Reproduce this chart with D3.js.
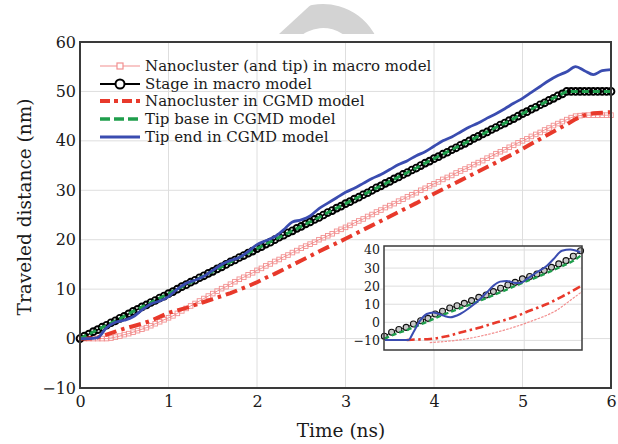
<!DOCTYPE html>
<html>
<head>
<meta charset="utf-8">
<script src="https://cdn.jsdelivr.net/npm/d3@7"></script>
<style>
  html, body { margin: 0; padding: 0; background: #fff; }
  svg { display: block; }
  text { font-family: "DejaVu Serif", "Liberation Serif", serif; fill: #1a1a1a; }
</style>
</head>
<body>
<svg id="chart" width="618" height="444"></svg>
<script>
// ---- Sample times (ns) ----
const t05 = [0,0.05,0.1,0.15,0.2,0.25,0.3,0.35,0.4,0.45,0.5,0.55,0.6,0.65,0.7,0.75,0.8,0.85,0.9,0.95,
  1,1.05,1.1,1.15,1.2,1.25,1.3,1.35,1.4,1.45,1.5,1.55,1.6,1.65,1.7,1.75,1.8,1.85,1.9,1.95,
  2,2.05,2.1,2.15,2.2,2.25,2.3,2.35,2.4,2.45,2.5,2.55,2.6,2.65,2.7,2.75,2.8,2.85,2.9,2.95,
  3,3.05,3.1,3.15,3.2,3.25,3.3,3.35,3.4,3.45,3.5,3.55,3.6,3.65,3.7,3.75,3.8,3.85,3.9,3.95,
  4,4.05,4.1,4.15,4.2,4.25,4.3,4.35,4.4,4.45,4.5,4.55,4.6,4.65,4.7,4.75,4.8,4.85,4.9,4.95,
  5,5.05,5.1,5.15,5.2,5.25,5.3,5.35,5.4,5.45,5.5,5.55,5.6,5.65,5.7,5.75,5.8,5.85,5.9,5.95,6];
const t10 = [0,0.1,0.2,0.3,0.4,0.5,0.6,0.7,0.8,0.9,1,1.1,1.2,1.3,1.4,1.5,1.6,1.7,1.8,1.9,
  2,2.1,2.2,2.3,2.4,2.5,2.6,2.7,2.8,2.9,3,3.1,3.2,3.3,3.4,3.5,3.6,3.7,3.8,3.9,
  4,4.1,4.2,4.3,4.4,4.5,4.6,4.7,4.8,4.9,5,5.1,5.2,5.3,5.4,5.5,5.6,5.7,5.8,5.9,6];

// ---- Traveled distance (nm) ----
// Nanocluster (and tip) in macro model, on t05
const macroCluster = [0,0,0,0,0,0,0,0.1,0.3,0.5,
  0.8,1.0,1.3,1.6,1.9,2.2,2.6,3.0,3.4,3.8,
  4.2,4.6,5.1,5.6,6.1,6.6,7.1,7.6,8.1,8.6,
  9.1,9.6,10.1,10.5,11.0,11.5,12.0,12.4,12.9,13.3,
  13.8,14.2,14.7,15.1,15.6,16.0,16.5,16.9,17.4,17.8,
  18.3,18.7,19.1,19.5,20.0,20.4,20.8,21.2,21.7,22.1,
  22.5,22.9,23.4,23.8,24.2,24.7,25.1,25.6,26.0,26.5,
  26.9,27.3,27.8,28.2,28.7,29.1,29.5,30.0,30.4,30.9,
  31.3,31.7,32.2,32.6,33.0,33.5,33.9,34.3,34.7,35.2,
  35.6,36.0,36.5,36.9,37.4,37.8,38.2,38.7,39.1,39.6,
  40.0,40.4,40.9,41.3,41.7,42.2,42.6,43.1,43.5,43.9,
  44.3,44.7,45.0,45.1,45.2,45.2,45.2,45.2,45.2,45.2,45.2];
// Stage in macro model, on t05
const macroStage = [0,0.5,0.9,1.4,1.8,2.3,2.7,3.2,3.6,4.1,
  4.5,5.0,5.5,5.9,6.4,6.8,7.3,7.7,8.2,8.6,
  9.1,9.5,10.0,10.5,10.9,11.4,11.8,12.3,12.7,13.2,
  13.6,14.1,14.5,15.0,15.5,15.9,16.4,16.8,17.3,17.7,
  18.2,18.6,19.1,19.5,20.0,20.5,20.9,21.4,21.8,22.3,
  22.7,23.2,23.6,24.1,24.5,25.0,25.5,25.9,26.4,26.8,
  27.3,27.7,28.2,28.6,29.1,29.5,30.0,30.5,30.9,31.4,
  31.8,32.3,32.7,33.2,33.6,34.1,34.5,35.0,35.5,35.9,
  36.4,36.8,37.3,37.7,38.2,38.6,39.1,39.5,40.0,40.5,
  40.9,41.4,41.8,42.3,42.7,43.2,43.6,44.1,44.5,45.0,
  45.5,45.9,46.4,46.8,47.3,47.7,48.2,48.6,49.1,49.5,
  50.0,50,50,50,50,50,50,50,50,50,50];
// Nanocluster in CGMD model, on t10
const cgmdCluster = [0,0,0.2,0.8,1.4,2.0,2.5,3.0,3.6,4.4,
  5.2,5.7,6.2,6.8,7.4,8.0,8.6,9.2,9.9,10.6,
  11.4,12.3,13.1,14.0,14.9,15.8,16.7,17.6,18.5,19.3,
  20.2,21.1,22.0,22.9,23.8,24.7,25.6,26.5,27.4,28.4,
  29.3,30.2,31.1,32.0,32.9,33.8,34.7,35.6,36.5,37.4,
  38.4,39.4,40.4,41.4,42.4,43.3,44.4,45.2,45.6,45.7,45.8];
// Tip base in CGMD model, on t10
const cgmdTipBase = [0,0.9,1.8,2.7,3.6,4.5,5.5,6.4,7.3,8.2,
  9.1,10.0,10.9,11.8,12.7,13.6,14.5,15.5,16.4,17.3,
  18.2,19.1,20.0,20.9,21.8,22.7,23.6,24.5,25.5,26.4,
  27.3,28.2,29.1,30.0,30.9,31.8,32.7,33.6,34.5,35.5,
  36.4,37.3,38.2,39.1,40.0,40.9,41.8,42.7,43.6,44.5,
  45.5,46.4,47.3,48.2,49.1,50.0,50,50,50,50,50];
// Tip end in CGMD model, on t10
const cgmdTipEnd = [0,0,0.2,2.2,3.3,3.7,4.4,5.8,7.0,7.6,
  8.5,10.0,11.2,11.8,12.6,13.8,15.0,15.8,16.4,17.6,
  19.0,19.8,20.6,22.0,23.6,24.0,24.8,26.3,27.4,28.5,
  29.6,30.4,31.4,32.4,33.2,34.2,35.2,36.0,37.0,37.8,
  38.9,40.0,40.8,41.8,42.8,43.6,44.6,45.5,46.5,47.6,
  48.6,49.8,51.0,52.2,53.2,54.0,55.0,54.2,53.4,54.2,54.4];

// ---- Inset curves ----
const insetT = [0.46,0.54,0.62,0.70,0.78,0.86,0.94,1.02,1.10,1.18,1.26,1.34,1.42,1.50,
  1.58,1.66,1.74,1.82,1.90,1.98,2.06,2.14,2.22,2.30,2.38,2.46,2.54,2.62];
const insetStage = [-7.7,-5.5,-4.0,-2.8,-0.9,0.9,2.2,4.6,6.1,7.9,9.2,10.5,12.0,13.8,
  15.1,17.0,18.8,20.6,22.1,24.0,25.3,26.7,28.6,30.4,32.3,34.1,36.5,39.6];
const insetTipBase = [-9.0,-7.3,-5.8,-4.4,-2.8,-1.1,0.5,2.3,4.0,5.6,7.1,8.6,10.1,11.7,
  13.3,15.0,16.7,18.4,20.1,21.8,23.4,25.0,26.7,28.4,30.2,32.0,34.0,36.8];
const insetEndT = [0.467,0.724,0.78,0.853,0.927,1.0,1.11,1.184,1.294,1.405,1.515,1.589,
  1.662,1.735,1.809,1.90,1.956,2.03,2.14,2.25,2.323,2.416,2.507,2.617];
const insetTipEnd = [-9.8,-9.8,-5.5,0.9,4.6,5.5,3.7,2.8,4.6,8.3,12.9,16.6,
  20.3,22.5,22.9,21.8,21.8,24.0,27.7,31.3,35.0,39.6,40.2,38.7];
const insetClT = [0.706,0.762,0.964,1.147,1.331,1.515,1.699,1.882,2.066,2.25,2.433,2.636];
const insetCluster = [-9.8,-9.6,-9.2,-7.7,-5.2,-2.8,0,2.8,6.5,10.1,14.7,20.3];
const insetMacroT = [0.96,1.33,1.70,2.07,2.36,2.52,2.636];
const insetMacro = [-11.2,-9.4,-5.4,0.5,6.8,12.6,17.0];

// ---- Axis ticks and labels ----
const xTicks = [0,1,2,3,4,5,6];
const yTicks = [-10,0,10,20,30,40,50,60];
const insetYTicks = [-10,0,10,20,30,40];
const insetXGrid = [1,2];
const legendLabels = [
  "Nanocluster (and tip) in macro model",
  "Stage in macro model",
  "Nanocluster in CGMD model",
  "Tip base in CGMD model",
  "Tip end in CGMD model"
];
const xTitle = "Time (ns)";
const yTitle = "Traveled distance (nm)";

// ---- Styles ----
const C = {
  macro: "#f29090",
  stage: "#000000",
  cluster: "#e8392b",
  base: "#1f9e4c",
  end: "#3a4cb0",
  grid: "#dedede",
  frame: "#3a3a3a"
};

const svg = d3.select("#chart");

// faint ring mark above the plot, cut by a slanted edge on its left
const arc = d3.arc().innerRadius(35).outerRadius(59).startAngle(-1.2).endAngle(1.75);
svg.append("clipPath").attr("id", "topclip")
  .append("polygon").attr("points", "279,34 316,0 618,0 618,34");
svg.append("g").attr("clip-path", "url(#topclip)")
  .append("path").attr("d", arc()).attr("transform", "translate(323,63)")
  .attr("fill", "#d3d3d3");

const x = d3.scaleLinear().domain([0, 6]).range([80, 611]);
const y = d3.scaleLinear().domain([-10, 60]).range([388, 42]);

// grid
const g = svg.append("g");
g.selectAll(".gx").data(xTicks).join("line")
  .attr("x1", d => x(d)).attr("x2", d => x(d)).attr("y1", y(-10)).attr("y2", y(60))
  .attr("stroke", C.grid).attr("stroke-width", 1);
g.selectAll(".gy").data(yTicks).join("line")
  .attr("y1", d => y(d)).attr("y2", d => y(d)).attr("x1", x(0)).attr("x2", x(6))
  .attr("stroke", C.grid).attr("stroke-width", 1);

// axes (labels only, frame drawn separately)
const xAxis = d3.axisBottom(x).tickValues(xTicks).tickSize(0).tickPadding(8).tickFormat(d3.format("d"));
const yAxis = d3.axisLeft(y).tickValues(yTicks).tickSize(0).tickPadding(4).tickFormat(d3.format("d"));
const gx = svg.append("g").attr("transform", `translate(0,${y(-10)})`).call(xAxis);
const gy = svg.append("g").attr("transform", `translate(${x(0)},0)`).call(yAxis);
[gx, gy].forEach(a => {
  a.select(".domain").remove();
  a.selectAll("text").style("font-family", '"DejaVu Serif", serif').style("font-size", "16px").attr("fill", "#1a1a1a");
});

// lines
const line = (xs, ys, sx, sy, curve) => d3.line()
  .x((d, i) => sx(xs[i])).y(d => sy(d)).curve(curve || d3.curveLinear)(ys);

const plot = svg.append("g");
// macro nanocluster: thin line with hollow squares
plot.append("path").attr("d", line(t05, macroCluster, x, y))
  .attr("fill", "none").attr("stroke", C.macro).attr("stroke-width", 1);
plot.selectAll(".sq").data(macroCluster).join("rect")
  .attr("x", (d, i) => x(t05[i]) - 2.3).attr("y", d => y(d) - 2.3)
  .attr("width", 4.6).attr("height", 4.6)
  .attr("fill", "none").attr("stroke", C.macro).attr("stroke-width", 0.9);

// stage: black line with hollow circles
plot.append("path").attr("d", line(t05, macroStage, x, y))
  .attr("fill", "none").attr("stroke", C.stage).attr("stroke-width", 1.6);
plot.selectAll(".ci").data(macroStage).join("circle")
  .attr("cx", (d, i) => x(t05[i])).attr("cy", d => y(d)).attr("r", 3.4)
  .attr("fill", "none").attr("stroke", C.stage).attr("stroke-width", 1.9);

// CGMD nanocluster: dash-dot
plot.append("path").attr("d", line(t10, cgmdCluster, x, y))
  .attr("fill", "none").attr("stroke", C.cluster).attr("stroke-width", 4)
  .attr("stroke-dasharray", "12,5,3.5,5");

// CGMD tip base: dashed
plot.append("path").attr("d", line(t10, cgmdTipBase, x, y))
  .attr("fill", "none").attr("stroke", C.base).attr("stroke-width", 3)
  .attr("stroke-dasharray", "7,4");

// CGMD tip end: solid
plot.append("path").attr("d", line(t10, cgmdTipEnd, x, y, d3.curveMonotoneX))
  .attr("fill", "none").attr("stroke", C.end).attr("stroke-width", 2.8)
  .attr("stroke-linejoin", "round");

// frame
svg.append("rect").attr("x", x(0)).attr("y", y(60))
  .attr("width", x(6) - x(0)).attr("height", y(-10) - y(60))
  .attr("fill", "none").attr("stroke", C.frame).attr("stroke-width", 2);

// axis titles
svg.append("text").attr("x", 341).attr("y", 437).attr("text-anchor", "middle")
  .style("font-size", "18.5px").text(xTitle);
svg.append("text").attr("transform", "translate(31,207) rotate(-90)")
  .attr("text-anchor", "middle").style("font-size", "18.5px").text(yTitle);

// legend
const legY = [66, 84, 101, 119, 137];
const leg = svg.append("g");
const lx0 = 100, lx1 = 140;
// macro
leg.append("line").attr("x1", lx0).attr("x2", lx1).attr("y1", legY[0]).attr("y2", legY[0])
  .attr("stroke", C.macro).attr("stroke-width", 1.2);
leg.append("rect").attr("x", 117).attr("y", legY[0] - 3).attr("width", 6).attr("height", 6)
  .attr("fill", "#fff").attr("stroke", C.macro).attr("stroke-width", 1.2);
// stage
leg.append("line").attr("x1", lx0).attr("x2", lx1).attr("y1", legY[1]).attr("y2", legY[1])
  .attr("stroke", C.stage).attr("stroke-width", 2);
leg.append("circle").attr("cx", 120).attr("cy", legY[1]).attr("r", 4.5)
  .attr("fill", "#fff").attr("stroke", C.stage).attr("stroke-width", 2);
// cluster
leg.append("line").attr("x1", lx0).attr("x2", lx1).attr("y1", legY[2]).attr("y2", legY[2])
  .attr("stroke", C.cluster).attr("stroke-width", 4).attr("stroke-dasharray", "10,4,4,4");
// base
leg.append("line").attr("x1", lx0).attr("x2", lx1).attr("y1", legY[3]).attr("y2", legY[3])
  .attr("stroke", C.base).attr("stroke-width", 3.5).attr("stroke-dasharray", "10,4");
// end
leg.append("line").attr("x1", lx0).attr("x2", lx1).attr("y1", legY[4]).attr("y2", legY[4])
  .attr("stroke", C.end).attr("stroke-width", 3.2);
leg.selectAll(".lt").data(legendLabels).join("text")
  .attr("x", 145).attr("y", (d, i) => legY[i] + 5)
  .style("font-size", "15px").text(d => d);

// ---- inset ----
const ix = d3.scaleLinear().domain([0.456, 2.636]).range([384, 582]);
const iy = d3.scaleLinear().domain([-15.3, 42.2]).range([350, 246]);
const ins = svg.append("g");
ins.append("rect").attr("x", 384).attr("y", 246).attr("width", 198).attr("height", 104)
  .attr("fill", "#fff");
ins.selectAll(".igy").data(insetYTicks).join("line")
  .attr("x1", 384).attr("x2", 582).attr("y1", d => iy(d)).attr("y2", d => iy(d))
  .attr("stroke", C.grid).attr("stroke-width", 1);
ins.selectAll(".igx").data(insetXGrid).join("line")
  .attr("x1", d => ix(d)).attr("x2", d => ix(d)).attr("y1", 246).attr("y2", 350)
  .attr("stroke", C.grid).attr("stroke-width", 1);
const iyAxis = d3.axisLeft(iy).tickValues(insetYTicks).tickSize(0).tickPadding(4).tickFormat(d3.format("d"));
const giy = ins.append("g").attr("transform", "translate(384,0)").call(iyAxis);
giy.select(".domain").remove();
giy.selectAll("text").style("font-family", '"DejaVu Serif", serif').style("font-size", "12.5px").attr("fill", "#1a1a1a");

ins.append("path").attr("d", line(insetMacroT, insetMacro, ix, iy, d3.curveMonotoneX))
  .attr("fill", "none").attr("stroke", C.macro).attr("stroke-width", 1.2)
  .attr("stroke-dasharray", "2.5,1.2");
ins.append("path").attr("d", line(insetT, insetStage, ix, iy, d3.curveMonotoneX))
  .attr("fill", "none").attr("stroke", C.stage).attr("stroke-width", 1);
ins.selectAll(".ic").data(insetStage).join("circle")
  .attr("cx", (d, i) => ix(insetT[i])).attr("cy", d => iy(d)).attr("r", 3)
  .attr("fill", "#c8c8c8").attr("stroke", "#111").attr("stroke-width", 1.1);
ins.append("path").attr("d", line(insetClT, insetCluster, ix, iy, d3.curveMonotoneX))
  .attr("fill", "none").attr("stroke", C.cluster).attr("stroke-width", 2.6)
  .attr("stroke-dasharray", "8,3.5,2.5,3.5");
ins.append("path").attr("d", line(insetT, insetTipBase, ix, iy, d3.curveMonotoneX))
  .attr("fill", "none").attr("stroke", C.base).attr("stroke-width", 2.4)
  .attr("stroke-dasharray", "5,3");
ins.append("path").attr("d", line(insetEndT, insetTipEnd, ix, iy, d3.curveMonotoneX))
  .attr("fill", "none").attr("stroke", C.end).attr("stroke-width", 2)
  .attr("stroke-linejoin", "round");
ins.append("rect").attr("x", 384).attr("y", 246).attr("width", 198).attr("height", 104)
  .attr("fill", "none").attr("stroke", C.frame).attr("stroke-width", 1.5);
</script>
</body>
</html>
